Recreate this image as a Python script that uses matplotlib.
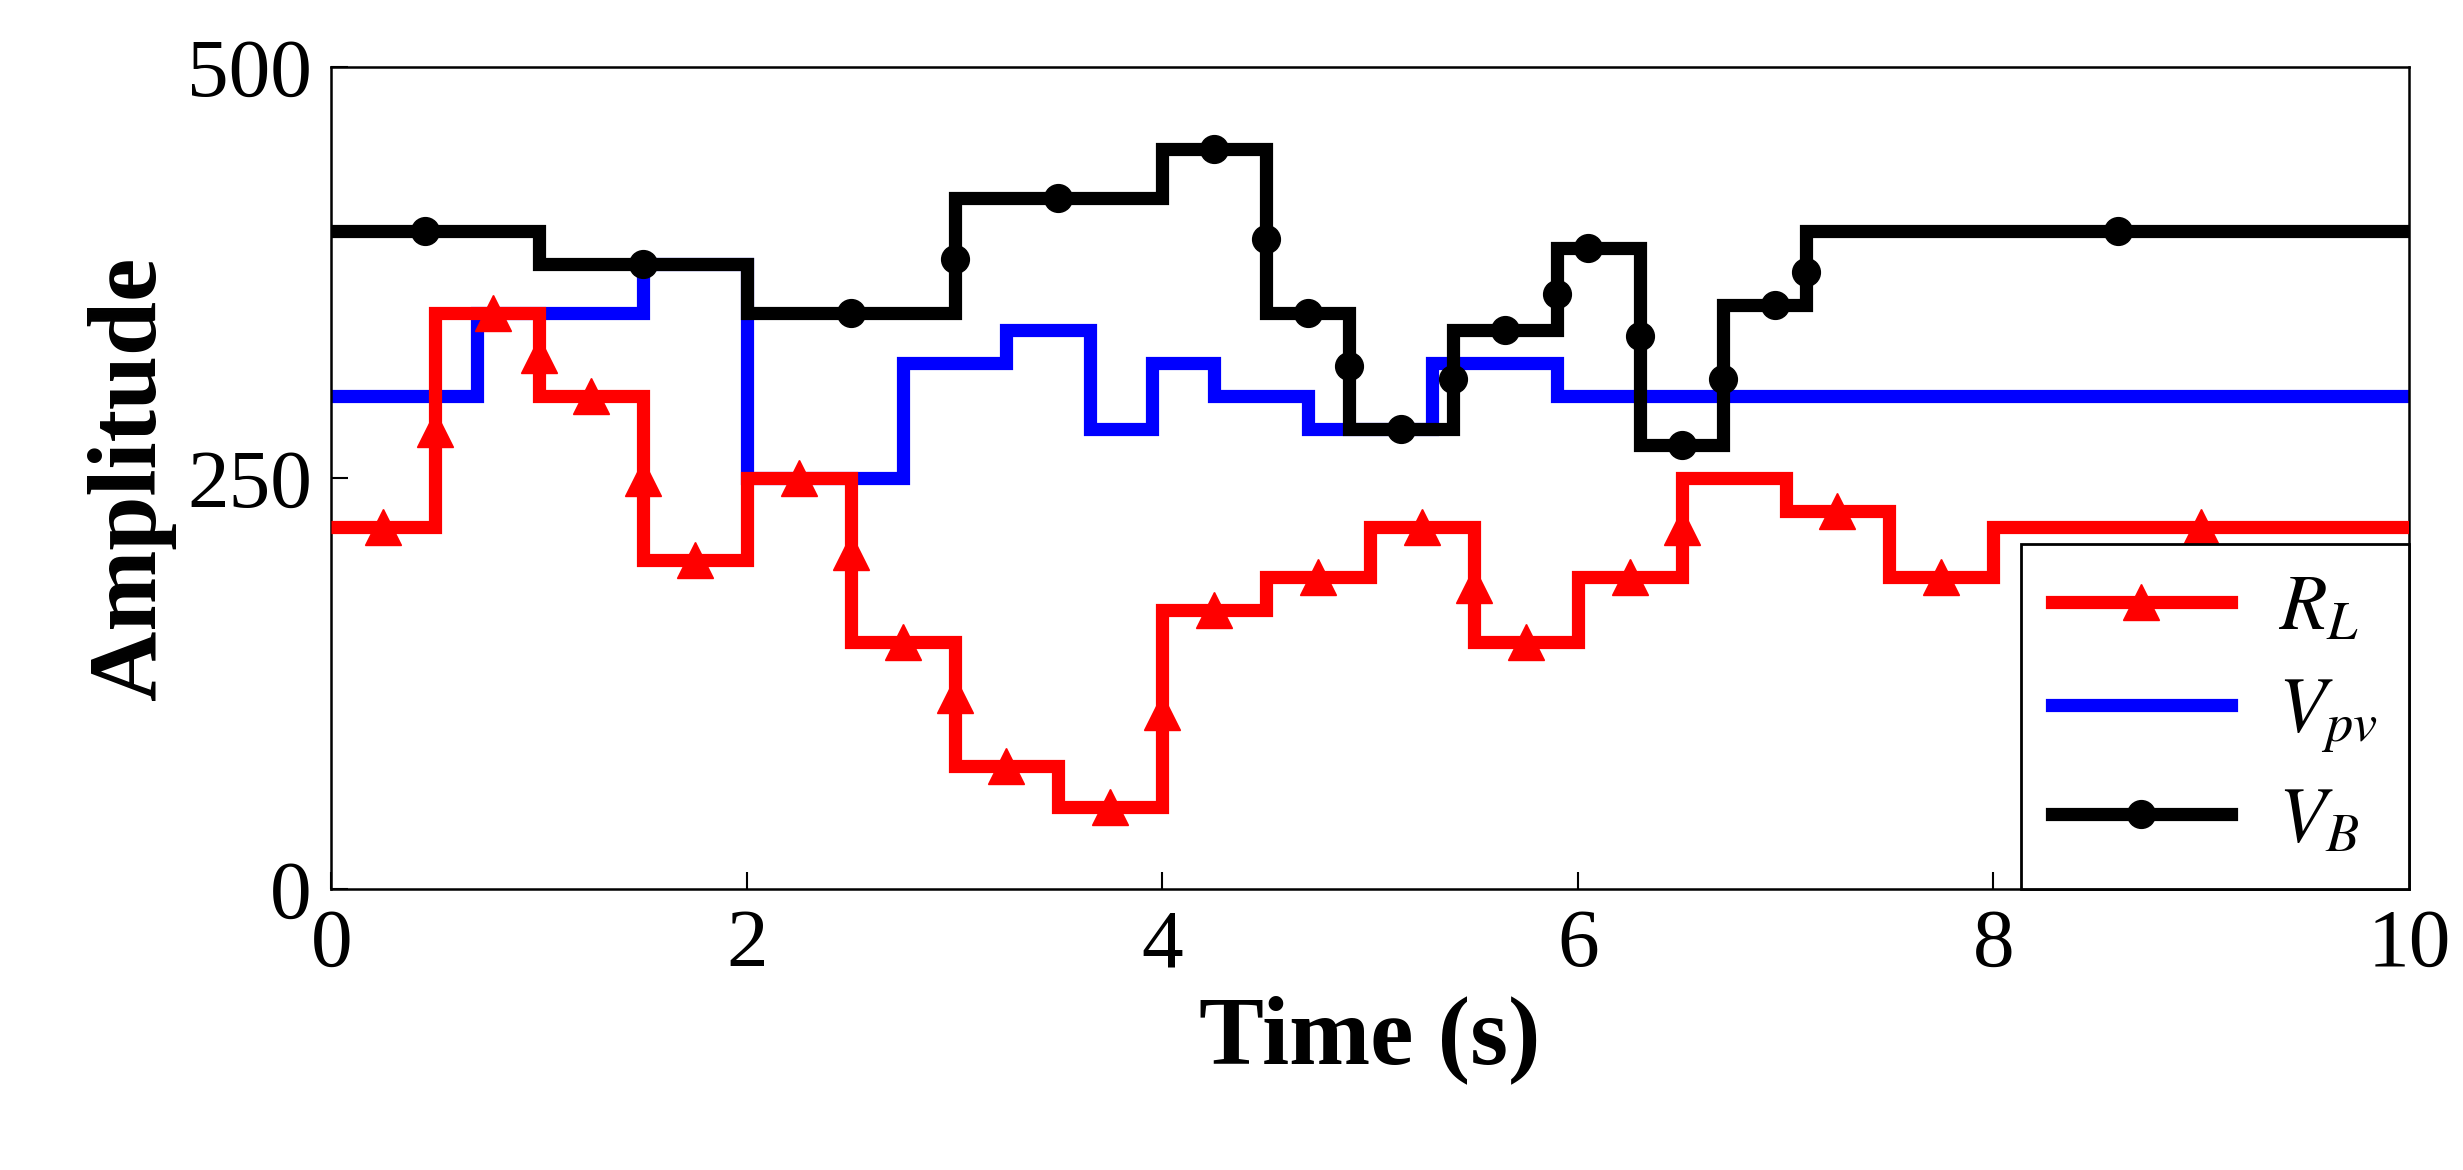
import matplotlib
matplotlib.use("Agg")
import matplotlib.pyplot as plt

# step data: edges and values
rl_edges = [0, 0.5, 1.0, 1.5, 2.0, 2.5, 3.0, 3.5, 4.0, 4.5, 5.0, 5.5, 6.0, 6.5, 7.0, 7.5, 8.0, 10]
rl_vals = [220, 350, 300, 200, 250, 150, 75, 50, 170, 190, 220, 150, 190, 250, 230, 190, 220]
vpv_edges = [0, 0.7, 1.5, 2.0, 2.75, 3.25, 3.65, 3.95, 4.25, 4.7, 5.3, 5.9, 10]
vpv_vals = [300, 350, 380, 250, 320, 340, 280, 320, 300, 280, 320, 300]
vb_edges = [0, 1.0, 2.0, 3.0, 4.0, 4.5, 4.9, 5.4, 5.9, 6.3, 6.7, 7.1, 10]
vb_vals = [400, 380, 350, 420, 450, 350, 280, 340, 390, 270, 355, 400]
# marker positions
rl_mx = [0.25, 0.5, 0.78, 1.0, 1.25, 1.5, 1.75, 2.25, 2.5, 2.75, 3.0, 3.25, 3.75, 4.0, 4.25, 4.75, 5.25, 5.5, 5.75, 6.25, 6.5, 7.25, 7.75, 9.0]
rl_my = [220, 280, 350, 325, 300, 250, 200, 250, 205, 150, 118, 75, 50, 108, 170, 190, 220, 185, 150, 190, 220, 230, 190, 220]
vb_mx = [0.45, 1.5, 2.5, 3.0, 3.5, 4.25, 4.5, 4.7, 4.9, 5.15, 5.4, 5.65, 5.9, 6.05, 6.3, 6.5, 6.7, 6.95, 7.1, 8.6]
vb_my = [400, 380, 350, 383, 420, 450, 395, 350, 318, 280, 310, 340, 362, 390, 336, 270, 310, 355, 375, 400]

plt.rcParams['font.family'] = ['Liberation Serif', 'DejaVu Serif']
plt.rcParams['mathtext.fontset'] = 'stix'

fig = plt.figure(figsize=(24.63, 11.70), dpi=100)
ax = fig.add_axes([0.1345, 0.24, 0.8435, 0.703])
lw = 9.5
ax.stairs(vpv_vals, vpv_edges, color='#0000ff', lw=lw, baseline=None, zorder=2)
ax.stairs(rl_vals, rl_edges, color='#ff0000', lw=lw, baseline=None, zorder=3)
ax.plot(rl_mx, rl_my, '^', color='#ff0000', ms=26, ls='none', zorder=3)
ax.stairs(vb_vals, vb_edges, color='black', lw=lw, baseline=None, zorder=4)
ax.plot(vb_mx, vb_my, 'o', color='black', ms=20, ls='none', zorder=4)

h1, = ax.plot([], [], '-^', color='#ff0000', lw=lw, ms=26)
h2, = ax.plot([], [], '-', color='#0000ff', lw=lw)
h3, = ax.plot([], [], '-o', color='black', lw=lw, ms=20)
leg = ax.legend([h1, h2, h3], ['$R_L$', '$V_{pv}$', '$V_B$'], loc='lower right',
                fontsize=56, frameon=True, fancybox=False, edgecolor='black',
                borderaxespad=0, handlelength=2.3, labelspacing=0.4,
                borderpad=0.4, handletextpad=0.6, framealpha=1)
leg.get_frame().set_linewidth(2)
leg.set_zorder(10)

ax.set_xlim(0, 10)
ax.set_ylim(0, 500)
ax.set_xticks([0, 2, 4, 6, 8, 10])
ax.set_yticks([0, 250, 500])
ax.tick_params(labelsize=60, direction='in', length=12, width=1.5, pad=14)
for s in ax.spines.values():
    s.set_linewidth(1.8)
ax.set_xlabel('Time (s)', fontsize=70, fontweight='bold', labelpad=8)
ax.set_ylabel('Amplitude', fontsize=70, fontweight='bold', labelpad=8)
fig.savefig('out.png', dpi=100)
